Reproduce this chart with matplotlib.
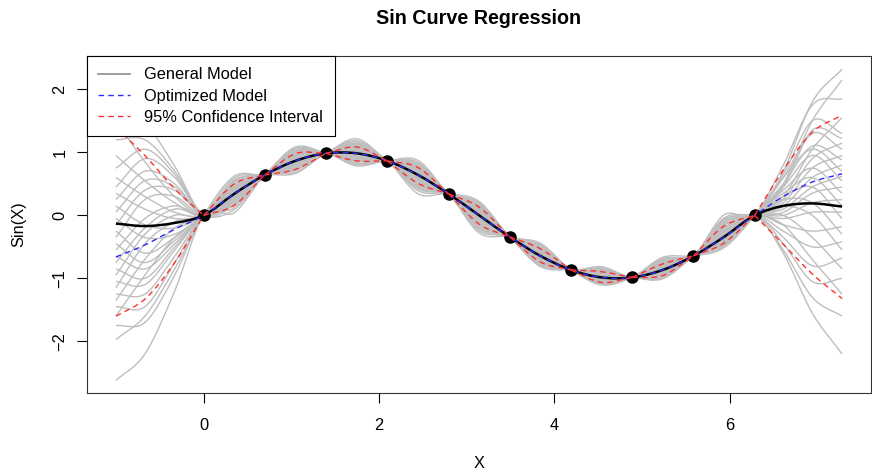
import numpy as np
import matplotlib.pyplot as plt
from matplotlib.path import Path
from matplotlib.patches import PathPatch
from matplotlib.lines import Line2D

plt.rcParams['font.family'] = ['Liberation Sans', 'DejaVu Sans']

# observed points
obs_x = [0.000, 0.698, 1.396, 2.094, 2.793, 3.491, 4.189, 4.887, 5.585, 6.283]
obs_y = [0.000, 0.643, 0.985, 0.866, 0.342, -0.342, -0.866, -0.985, -0.643, 0.000]

grid_x = [-1.00, -0.67, -0.33,
          0.000, 0.349, 0.698, 1.047, 1.396, 1.745, 2.094, 2.443, 2.793, 3.142,
          3.491, 3.840, 4.189, 4.538, 4.887, 5.236, 5.585, 5.934, 6.283,
          6.61, 6.94, 7.28]

general_model = [-0.13, -0.17, -0.12,
                 0.000, 0.342, 0.643, 0.866, 0.985, 0.985, 0.866, 0.643, 0.342, 0.000,
                 -0.342, -0.643, -0.866, -0.985, -0.985, -0.866, -0.643, -0.342, 0.000,
                 0.15, 0.19, 0.14]
optimized_model = [-0.66, -0.47, -0.22,
                   0.000, 0.342, 0.643, 0.866, 0.985, 0.985, 0.866, 0.643, 0.342, 0.000,
                   -0.342, -0.643, -0.866, -0.985, -0.985, -0.866, -0.643, -0.342, 0.000,
                   0.30, 0.53, 0.66]
ci_upper = [1.40, 0.95, 0.42,
            0.000, 0.50, 0.643, 0.98, 0.985, 1.085, 0.866, 0.76, 0.342, 0.13,
            -0.342, -0.53, -0.866, -0.895, -0.985, -0.77, -0.643, -0.17, 0.000,
            0.72, 1.32, 1.59]
ci_lower = [-1.60, -1.33, -0.75,
            0.000, 0.16, 0.643, 0.73, 0.985, 0.865, 0.866, 0.51, 0.342, -0.14,
            -0.342, -0.74, -0.866, -1.065, -0.985, -0.955, -0.643, -0.44, 0.000,
            -0.46, -0.93, -1.32]

# grey sampled curves: left tail (x=-1.0,-0.67,-0.33)
sample_left = [
    [-2.62, -2.20, -1.20], [-1.97, -1.60, -0.85], [-1.75, -1.70, -0.95],
    [-1.60, -0.95, -0.35], [-1.45, -1.45, -0.75], [-1.35, -0.70, -0.20],
    [-1.25, -1.25, -0.65], [-1.15, -0.45, -0.10], [-1.05, -1.10, -0.55],
    [-0.95, -0.30, 0.00], [-0.85, -1.00, -0.50], [-0.75, -0.20, 0.10],
    [-0.65, -0.85, -0.45], [-0.55, -0.05, 0.15], [-0.45, -0.75, -0.40],
    [-0.35, 0.25, 0.30], [-0.25, -0.60, -0.35], [-0.15, 0.40, 0.40],
    [-0.05, -0.35, -0.30], [0.05, 0.55, 0.45], [0.15, -0.15, -0.20],
    [0.25, 0.70, 0.50], [0.35, 0.10, -0.05], [0.45, 0.90, 0.60],
    [0.60, 0.30, 0.05], [0.75, 1.05, 0.65], [0.95, 0.55, 0.20],
    [1.20, 1.20, 0.70], [1.50, 0.85, 0.30], [2.00, 1.50, 0.78]]

# deviation from the model halfway between two observed points
sample_mid_offset = [
    [-0.30, 0.10, -0.05, 0.12, -0.15, 0.08, -0.06, 0.14, 0.35],
    [0.28, -0.05, 0.15, -0.20, 0.08, -0.10, 0.12, -0.06, -0.10],
    [-0.18, 0.22, -0.12, 0.05, -0.28, 0.12, -0.03, 0.08, 0.20],
    [0.12, -0.12, 0.23, -0.08, 0.15, -0.17, 0.08, -0.14, 0.05],
    [-0.08, 0.06, -0.18, 0.23, -0.04, 0.05, -0.12, 0.20, -0.17],
    [0.20, -0.20, 0.08, -0.30, 0.22, -0.03, 0.17, -0.02, 0.28],
    [-0.12, 0.15, -0.02, 0.10, -0.10, 0.20, -0.08, 0.05, -0.05],
    [0.05, -0.03, 0.12, -0.12, 0.05, -0.08, 0.04, -0.10, 0.12],
    [-0.22, 0.08, -0.20, 0.18, -0.06, 0.14, -0.01, 0.16, 0.02],
    [0.15, -0.15, 0.05, -0.04, 0.18, -0.12, 0.10, -0.04, -0.13],
    [0.02, 0.18, -0.10, 0.07, -0.20, 0.02, -0.10, 0.11, 0.24],
    [-0.05, -0.08, 0.18, -0.22, 0.10, 0.16, 0.06, -0.12, 0.08],
    [0.10, 0.02, -0.07, 0.15, -0.02, -0.06, 0.14, 0.03, -0.08],
    [-0.15, 0.12, 0.03, -0.06, 0.12, 0.10, -0.05, 0.18, 0.15],
    [0.25, -0.10, 0.10, 0.02, -0.25, -0.14, 0.02, -0.08, 0.30],
    [-0.02, 0.05, -0.15, 0.20, 0.03, 0.07, -0.09, 0.09, -0.02],
    [0.08, -0.18, 0.20, -0.14, 0.07, -0.02, 0.11, -0.01, 0.10],
    [-0.10, 0.09, -0.04, 0.08, -0.12, 0.18, -0.04, 0.13, -0.15],
    [0.18, -0.04, 0.06, -0.25, 0.16, -0.09, 0.07, -0.11, 0.18],
    [-0.25, 0.14, -0.12, 0.04, -0.08, 0.04, 0.15, 0.06, 0.04],
    [0.04, -0.12, 0.14, -0.10, 0.20, -0.15, -0.07, 0.02, -0.06],
    [-0.06, 0.20, -0.08, 0.13, -0.15, 0.11, 0.03, -0.07, 0.22],
    [0.13, -0.06, 0.01, -0.16, 0.04, -0.05, 0.09, 0.15, 0.00],
    [-0.12, 0.03, 0.16, 0.06, -0.18, 0.13, -0.11, -0.03, -0.11],
    [0.07, -0.14, -0.06, 0.17, 0.09, -0.11, 0.05, 0.10, 0.14],
    [-0.03, 0.11, 0.09, -0.02, 0.14, 0.01, -0.02, -0.13, 0.06],
    [0.22, -0.02, -0.16, 0.09, -0.05, 0.09, 0.13, 0.07, -0.09],
    [-0.17, 0.07, 0.04, -0.18, 0.01, -0.07, -0.06, 0.12, 0.26],
    [0.10, -0.09, 0.12, -0.05, -0.22, 0.15, 0.01, -0.05, 0.09],
    [-0.08, 0.16, -0.10, 0.11, 0.06, -0.04, 0.08, 0.04, -0.04]]

# right tail (x=6.61, 6.94, 7.28)
sample_right = [
    [0.70, 1.80, 2.32], [0.50, 1.50, 2.15], [0.80, 1.75, 1.85],
    [0.30, 1.05, 1.55], [0.65, 1.50, 1.30], [0.45, 1.35, 1.22],
    [0.25, 0.90, 1.15], [0.60, 1.30, 1.05], [0.20, 0.75, 0.95],
    [0.50, 1.10, 0.88], [0.15, 0.60, 0.80], [0.60, 1.05, 0.70],
    [0.10, 0.45, 0.62], [0.45, 0.95, 0.55], [0.05, 0.35, 0.45],
    [0.40, 0.75, 0.35], [0.00, 0.20, 0.25], [0.35, 0.60, 0.15],
    [-0.05, 0.05, 0.05], [0.30, 0.45, -0.05], [-0.15, -0.25, -0.18],
    [0.25, 0.20, -0.30], [-0.25, -0.50, -0.42], [0.15, 0.00, -0.55],
    [-0.35, -0.80, -0.68], [0.00, -0.35, -0.85], [-0.45, -1.05, -1.00],
    [-0.15, -0.70, -1.25], [-0.55, -1.30, -1.60], [-0.60, -1.55, -2.20]]


def smooth_path(x, y):
    # cubic bezier segments through the read points
    x = np.asarray(x, float)
    y = np.asarray(y, float)
    m = np.gradient(y, x)
    verts = [(x[0], y[0])]
    codes = [Path.MOVETO]
    for i in range(len(x) - 1):
        h = (x[i + 1] - x[i]) / 3
        verts += [(x[i] + h, y[i] + m[i] * h),
                  (x[i + 1] - h, y[i + 1] - m[i + 1] * h),
                  (x[i + 1], y[i + 1])]
        codes += [Path.CURVE4] * 3
    return Path(verts, codes)


def draw_curve(ax, x, y, **kw):
    ax.add_patch(PathPatch(smooth_path(x, y), fill=False, **kw))


def draw_band(ax, x, y, **kw):
    # envelope pinches at each observed point, draw piece by piece
    cuts = [0, 3, 5, 7, 9, 11, 13, 15, 17, 19, 21, 24]
    for a, b in zip(cuts[:-1], cuts[1:]):
        draw_curve(ax, x[a:b + 1], y[a:b + 1], **kw)


fig = plt.figure(figsize=(8.72, 4.71), dpi=100)
ax = fig.add_axes([87 / 872, 1 - 393 / 471, 784 / 872, 337 / 471])

mid_idx = list(range(4, 21, 2))
for left, offs, right in zip(sample_left, sample_mid_offset, sample_right):
    y = list(left) + list(optimized_model[3:22]) + list(right)
    for j, d in zip(mid_idx, offs):
        y[j] = optimized_model[j] + d
    draw_curve(ax, grid_x, y, edgecolor='#bebebe', lw=1.0, zorder=1)

ax.plot(obs_x, obs_y, 'o', color='black', ms=8, zorder=2)
draw_curve(ax, grid_x, general_model, edgecolor='black', lw=1.8, zorder=3)
draw_curve(ax, grid_x, optimized_model, edgecolor='#2b2bff', lw=1.0,
           linestyle=(0, (4, 3)), zorder=4)
draw_band(ax, grid_x, ci_upper, edgecolor='#ff3030', lw=1.0,
          linestyle=(0, (4, 3)), zorder=4)
draw_band(ax, grid_x, ci_lower, edgecolor='#ff3030', lw=1.0,
          linestyle=(0, (4, 3)), zorder=4)

ax.set_xlim(-1.33, 7.61)
ax.set_ylim(-2.82, 2.53)
ax.set_xticks([0, 2, 4, 6])
ax.set_yticks([-2, -1, 0, 1, 2])
ax.tick_params(direction='out', length=7, width=0.8, labelsize=11.8)
ax.tick_params(axis='x', pad=11)
ax.tick_params(axis='y', pad=7)
for lab in ax.get_yticklabels():
    lab.set_rotation(90)
    lab.set_va('center')
for s in ax.spines.values():
    s.set_linewidth(0.8)
    s.set_color('#333333')

ax.set_xlabel('X', fontsize=11.8)
ax.xaxis.set_label_coords(0.5, -(463 - 393) / 337)
ax.xaxis.label.set_va('center')
ax.set_ylabel('Sin(X)', fontsize=11.8)
ax.yaxis.set_label_coords((19 - 87) / 784, 0.5)
ax.yaxis.label.set_va('center')
ax.set_title('Sin Curve Regression', fontsize=14.2, fontweight='bold',
             y=1 + (56 - 18) / 337, pad=0, va='center')

handles = [Line2D([], [], color='#8c8c8c', lw=1.2),
           Line2D([], [], color='#2b2bff', lw=1.0, linestyle=(0, (4, 3))),
           Line2D([], [], color='#ff3030', lw=1.0, linestyle=(0, (4, 3)))]
labels = ['General Model', 'Optimized Model', '95% Confidence Interval']
leg = ax.legend(handles, labels, loc='upper left', bbox_to_anchor=(0, 1),
                borderaxespad=0, fancybox=False, framealpha=1, edgecolor='black',
                fontsize=11.8, handlelength=1.9, handletextpad=0.9,
                labelspacing=0.38, borderpad=0.7)
leg.get_frame().set_linewidth(0.8)
leg.set_zorder(10)

plt.savefig('out.png', dpi=100)
